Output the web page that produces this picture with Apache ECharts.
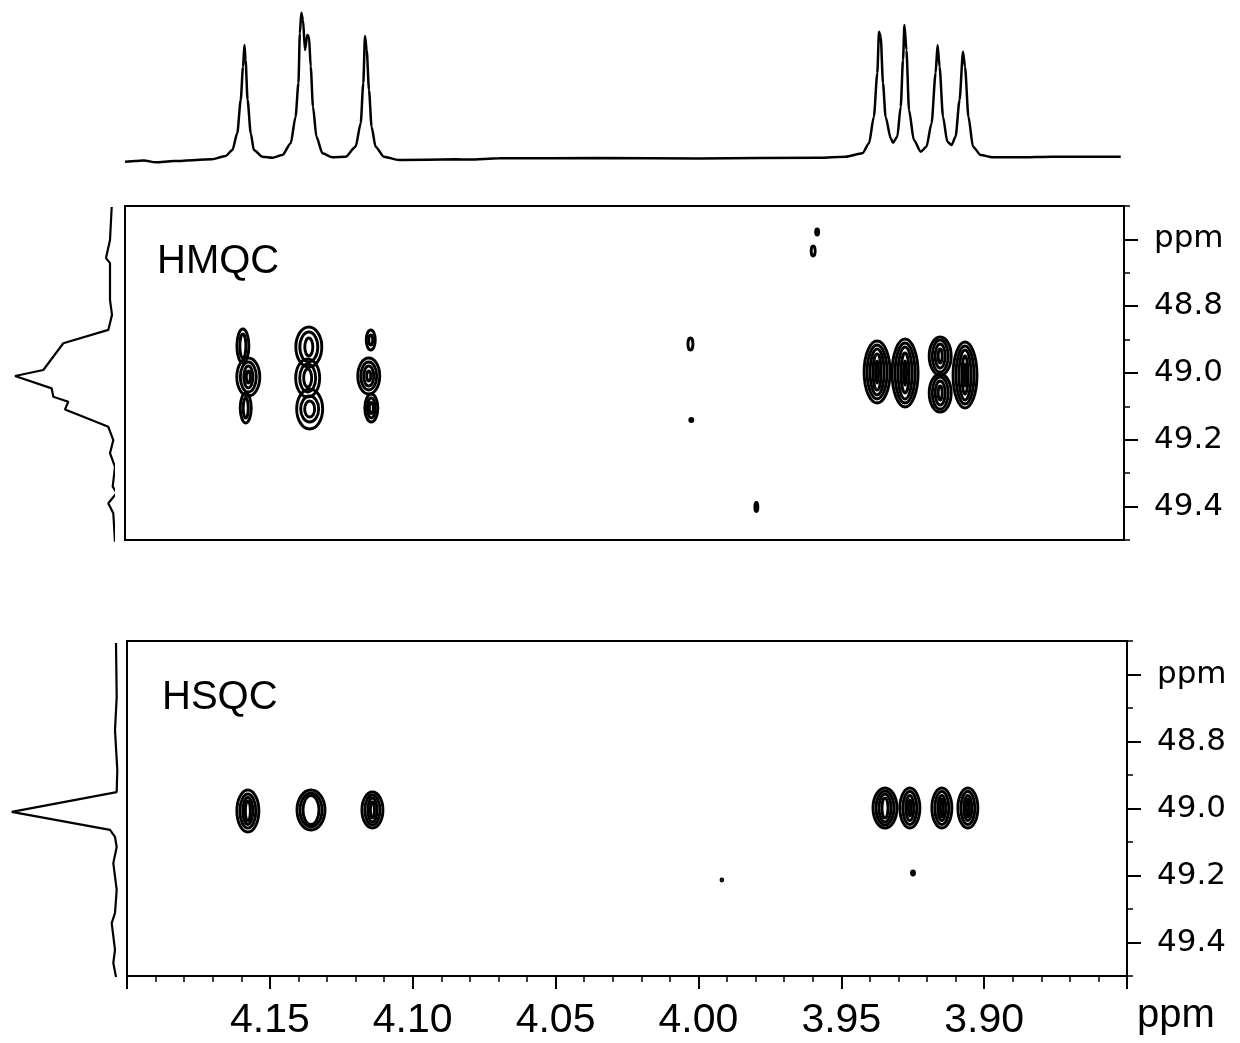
<!DOCTYPE html>
<html><head><meta charset="utf-8">
<script src="https://cdn.jsdelivr.net/npm/echarts@6/dist/echarts.min.js"></script>
<style>html,body{margin:0;padding:0;background:#fff}#c{width:1240px;height:1043px}</style>
</head><body><div id="c"></div>
<script>
// 1H spectrum: [ppm, intensity]
const protonSpectrum = [[4.2000,-1.7],[4.1963,-1.0],[4.1934,-0.5],[4.1893,-2.3],[4.1829,-1.0],[4.1696,0.7],[4.1648,4],[4.1624,10],[4.1607,27],[4.1595,60],[4.1587,93],[4.1582,115],[4.1578,100],[4.1571,60],[4.1560,27],[4.1549,10],[4.1519,3.3],[4.1484,2.3],[4.1449,5],[4.1420,16.7],[4.1403,43.3],[4.1393,76.7],[4.1388,126.7],[4.1383,147.3],[4.1377,140],[4.1370,110],[4.1362,125],[4.1356,123.3],[4.1350,93.3],[4.1342,53.3],[4.1330,23.3],[4.1309,6.7],[4.1274,2.7],[4.1228,3.3],[4.1193,13.3],[4.1175,36.7],[4.1166,76.7],[4.1160,124],[4.1154,110],[4.1146,70],[4.1137,33.3],[4.1123,13.3],[4.1094,3.3],[4.1041,0],[4.0843,0.7],[4.0796,0.5],[4.0691,1.7],[4.0341,2],[3.9991,1.5],[3.9571,2.3],[3.9478,3.3],[3.9419,6.7],[3.9396,16.7],[3.9379,43.3],[3.9367,86.7],[3.9361,128.3],[3.9355,123.3],[3.9347,76.7],[3.9338,43.3],[3.9320,21.7],[3.9312,17.3],[3.9297,23.3],[3.9285,53.3],[3.9277,100],[3.9272,135],[3.9265,110],[3.9256,50],[3.9239,20],[3.9215,8.3],[3.9195,13.3],[3.9177,36.7],[3.9163,86.7],[3.9156,115],[3.9149,93.3],[3.9137,43.3],[3.9122,18.3],[3.9107,15],[3.9093,23.3],[3.9079,60],[3.9067,108.3],[3.9060,93.3],[3.9048,43.3],[3.9032,13.3],[3.9005,5],[3.8964,2.7],[3.8871,2.7],[3.8754,3.3],[3.8515,3.3]];

// 13C projections: [intensity, ppm]
const hmqcProjection = [[1.3,48.503],[3,48.602],[7,48.656],[3,48.671],[3,48.781],[1,48.826],[4.7,48.871],[3,48.876],[49.7,48.911],[69.7,48.991],[98,49.009],[61.3,49.046],[59.7,49.071],[44.7,49.086],[48,49.109],[29.7,49.131],[4.7,49.161],[-0.3,49.201],[3,49.240],[-2,49.281],[0.3,49.340],[-3.7,49.359],[4.7,49.390],[-0.3,49.420],[-2,49.505]];
const hsqcProjection = [[1,48.506],[0.3,48.667],[2,48.766],[-0.3,48.885],[0.3,48.951],[105.3,49.010],[7,49.064],[2,49.085],[0.3,49.115],[3.7,49.163],[0.3,49.243],[2,49.312],[5.3,49.342],[2,49.422],[3.7,49.461],[1,49.503]];

// contour rings: [1H ppm, 13C ppm, half-extent 1H ppm, half-extent 13C ppm]
const hmqcContours = [
 [4.1587,48.9192,.0021,.0509],[4.1587,48.9192,.00105,.0359],
 [4.1568,49.0120,.00403,.0569],[4.1568,49.0120,.0028,.0449],[4.1568,49.0120,.00158,.0329],[4.1568,49.0120,.0007,.018],
 [4.1577,49.1048,.00193,.0449],[4.1577,49.1048,.000875,.0299],
 [4.1356,48.9222,.00455,.0599],[4.1356,48.9222,.00315,.0449],[4.1356,48.9222,.0014,.0269],
 [4.1360,49.0150,.0042,.0569],[4.1360,49.0150,.0028,.0419],[4.1360,49.0150,.0014,.0269],
 [4.1353,49.1078,.00455,.0599],[4.1353,49.1078,.00315,.0389],[4.1353,49.1078,.00175,.024],
 [4.1139,48.9012,.00158,.0299],[4.1139,48.9012,.0007,.015],
 [4.1146,49.0090,.00385,.0539],[4.1146,49.0090,.0028,.0419],[4.1146,49.0090,.00175,.0299],[4.1146,49.0090,.0007,.015],
 [4.1137,49.1048,.00228,.0419],[4.1137,49.1048,.0014,.0299],[4.1137,49.1048,.0007,.0165],
 [3.9365,48.9970,.00455,.0928],[3.9365,48.9970,.0035,.0808],[3.9365,48.9970,.00245,.0689],[3.9365,48.9970,.0014,.0539],[3.9365,48.9970,.000525,.0329],
 [3.9267,49.0000,.00455,.1018],[3.9267,49.0000,.0035,.0898],[3.9267,49.0000,.00245,.0778],[3.9267,49.0000,.0014,.0599],[3.9267,49.0000,.000525,.0359],
 [3.9144,48.9491,.00385,.0569],[3.9144,48.9491,.0028,.0479],[3.9144,48.9491,.00175,.0359],[3.9144,48.9491,.0007,.021],
 [3.9144,49.0599,.00385,.0569],[3.9144,49.0599,.0028,.0479],[3.9144,49.0599,.00175,.0359],[3.9144,49.0599,.0007,.021],
 [3.9057,49.0060,.0042,.0988],[3.9057,49.0060,.00315,.0868],[3.9057,49.0060,.0021,.0749],[3.9057,49.0060,.00105,.0569],[3.9057,49.0060,.00035,.0329],
 [3.9575,48.5778,.000525,.009],[3.9589,48.6347,.0007,.015],[4.0019,48.9132,.000875,.018],[4.0016,49.1407,.000525,.0045],[3.9788,49.4012,.000525,.0135]
];
const hsqcContours = [
 [4.1577,49.0075,.00385,.0627],[4.1577,49.0075,.0028,.0507],[4.1577,49.0075,.00175,.0403],[4.1577,49.0075,.000875,.0299],
 [4.1356,49.0045,.0049,.0597],[4.1356,49.0045,.00385,.0507],[4.1356,49.0045,.0028,.0433],
 [4.1141,49.0045,.00368,.0537],[4.1141,49.0045,.00263,.0448],[4.1141,49.0045,.00158,.0358],[4.1141,49.0045,.0007,.0239],
 [3.9347,48.9985,.0042,.0597],[3.9347,48.9985,.00315,.0507],[3.9347,48.9985,.0021,.0418],[3.9347,48.9985,.00105,.0299],
 [3.9260,48.9985,.0035,.0597],[3.9260,48.9985,.00245,.0493],[3.9260,48.9985,.0014,.0373],[3.9260,48.9985,.000525,.0239],
 [3.9148,48.9985,.0035,.0597],[3.9148,48.9985,.00245,.0493],[3.9148,48.9985,.0014,.0373],[3.9148,48.9985,.000525,.0269],
 [3.9057,48.9985,.0035,.0597],[3.9057,48.9985,.00245,.0493],[3.9057,48.9985,.0014,.0373],[3.9057,48.9985,.000525,.0269],
 [3.9249,49.1925,.000525,.006],[3.9918,49.2134,.0003,.003]
];

const carbonMajorTicks = [48.6, 48.8, 49.0, 49.2, 49.4];
const carbonTickLabels = ['ppm', '48.8', '49.0', '49.2', '49.4'];
const protonTickLabels = {'4.15':'4.15','4.10':'4.10','4.05':'4.05','4.00':'4.00','3.95':'3.95','3.90':'3.90'};
const protonRange = [3.85, 4.20];
const carbonRange = [48.5, 49.5];

const FONT = 'Liberation Sans, Arial, sans-serif';
const black = '#000';

function ringItem(params, api) {
  const cx = api.value(0), cy = api.value(1), rx = api.value(2), ry = api.value(3);
  const a = api.coord([cx - rx, cy - ry]);
  const b = api.coord([cx + rx, cy + ry]);
  const c = api.coord([cx, cy]);
  return {
    type: 'ellipse',
    shape: { cx: c[0], cy: c[1], rx: Math.max(Math.abs(b[0] - a[0]) / 2, 0.6), ry: Math.max(Math.abs(b[1] - a[1]) / 2, 0.6) },
    style: { fill: 'none', stroke: black, lineWidth: 2.9 }
  };
}

function carbonAxesFor(gridIndex) {
  return [
    { gridIndex, type: 'value', position: 'right', inverse: true, min: carbonRange[0], max: carbonRange[1], interval: 0.1,
      axisLine: { show: true, lineStyle: { color: black, width: 2 } },
      axisTick: { show: true, length: 6, lineStyle: { color: black, width: 1.5 } },
      axisLabel: { show: false }, splitLine: { show: false } },
    { gridIndex, type: 'value', position: 'right', inverse: true, min: carbonRange[0], max: carbonRange[1],
      axisLine: { show: false },
      axisTick: { show: true, customValues: carbonMajorTicks, length: 14, lineStyle: { color: black, width: 2 } },
      axisLabel: { show: true, customValues: carbonMajorTicks, margin: 30, color: black, fontFamily: 'DejaVu Sans', fontSize: 31,
        formatter: v => { const i = carbonMajorTicks.findIndex(t => Math.abs(t - v) < 1e-6); return i >= 0 ? carbonTickLabels[i] : ''; } },
      splitLine: { show: false } }
  ];
}

const chart = echarts.init(document.getElementById('c'), null, { renderer: 'canvas' });
const boxGrid = { show: true, borderColor: black, borderWidth: 2, backgroundColor: 'transparent' };
const option = {
  animation: false,
  backgroundColor: '#fff',
  title: [
    { text: 'HMQC', left: 157, top: 242, padding: 0, textStyle: { fontFamily: FONT, fontSize: 40, fontWeight: 'normal', color: black } },
    { text: 'HSQC', left: 162, top: 678, padding: 0, textStyle: { fontFamily: FONT, fontSize: 40, fontWeight: 'normal', color: black } }
  ],
  grid: [
    { left: 125, top: 10, width: 1000, height: 155 },
    Object.assign({ left: 125, top: 206, width: 999, height: 334 }, boxGrid),
    { left: 5, top: 206, width: 108, height: 334 },
    Object.assign({ left: 127, top: 641, width: 1000, height: 335 }, boxGrid),
    { left: 5, top: 641, width: 112, height: 335 }
  ],
  xAxis: [
    { gridIndex: 0, type: 'value', min: protonRange[0], max: protonRange[1], inverse: true, show: false },
    { gridIndex: 1, type: 'value', min: protonRange[0], max: protonRange[1], inverse: true, show: false },
    { gridIndex: 2, type: 'value', min: 0, max: 108, inverse: true, show: false },
    { gridIndex: 3, type: 'value', min: protonRange[0], max: protonRange[1], inverse: true, interval: 0.05,
      axisLine: { show: true, onZero: false, lineStyle: { color: black, width: 2 } },
      axisTick: { show: true, length: 13, lineStyle: { color: black, width: 2 } },
      minorTick: { show: true, splitNumber: 5, length: 6, lineStyle: { color: black, width: 1.5 } },
      axisLabel: { show: true, margin: 24, color: black, fontFamily: FONT, fontSize: 41,
        formatter: v => protonTickLabels[v.toFixed(2)] || '' },
      splitLine: { show: false }, minorSplitLine: { show: false },
      name: 'ppm', nameLocation: 'start', nameGap: 10,
      nameTextStyle: { fontFamily: FONT, fontSize: 40, color: black, align: 'left', verticalAlign: 'top', padding: [20, 0, 0, 0] } },
    { gridIndex: 4, type: 'value', min: 0, max: 112, inverse: true, show: false }
  ],
  yAxis: [
    { gridIndex: 0, type: 'value', min: -5, max: 150, show: false },
    ...carbonAxesFor(1),
    { gridIndex: 2, type: 'value', min: carbonRange[0], max: carbonRange[1], inverse: true, show: false },
    ...carbonAxesFor(3),
    { gridIndex: 4, type: 'value', min: carbonRange[0], max: carbonRange[1], inverse: true, show: false }
  ],
  series: [
    { type: 'line', xAxisIndex: 0, yAxisIndex: 0, data: protonSpectrum, showSymbol: false, smooth: 0.25, smoothMonotone: 'x',
      lineStyle: { color: black, width: 2.5 }, clip: false },
    { type: 'custom', xAxisIndex: 1, yAxisIndex: 1, data: hmqcContours, renderItem: ringItem, encode: { x: 0, y: 1 }, clip: false },
    { type: 'line', xAxisIndex: 2, yAxisIndex: 3, data: hmqcProjection, showSymbol: false, lineStyle: { color: black, width: 2.2 }, clip: false },
    { type: 'custom', xAxisIndex: 3, yAxisIndex: 4, data: hsqcContours, renderItem: ringItem, encode: { x: 0, y: 1 }, clip: false },
    { type: 'line', xAxisIndex: 4, yAxisIndex: 6, data: hsqcProjection, showSymbol: false, lineStyle: { color: black, width: 2.2 }, clip: false }
  ]
};
chart.setOption(option);
</script></body></html>
